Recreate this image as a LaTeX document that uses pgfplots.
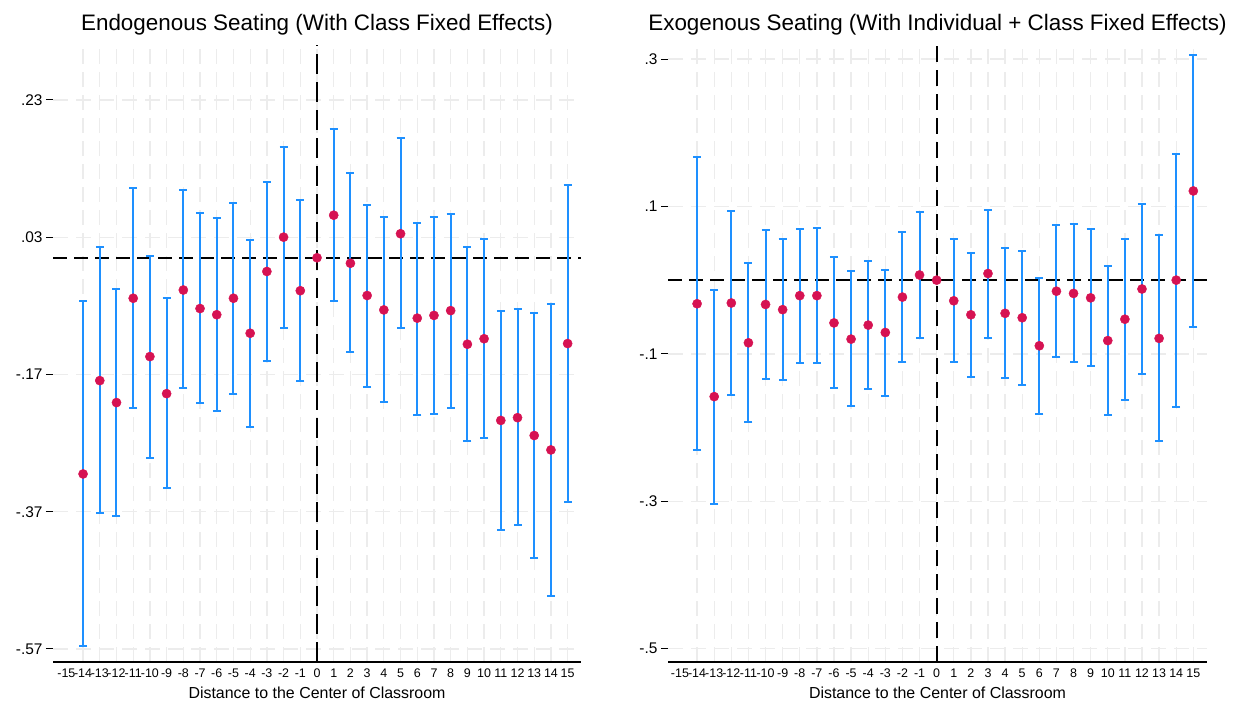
\documentclass[border=0pt]{standalone}
\usepackage{pgfplots}
\pgfplotsset{compat=1.18}
\usepackage{pgfplotstable}
\usepackage{fontspec}
\setmainfont{Liberation Sans}
\definecolor{barblue}{RGB}{30,144,255}
\definecolor{ptred}{RGB}{214,18,82}
\definecolor{gridgray}{RGB}{236,236,236}

\pgfplotstableread{
x y hi lo
-14 -0.315 -0.063 -0.566
-13 -0.179 0.015 -0.372
-12 -0.211 -0.046 -0.376
-11 -0.059 0.102 -0.219
-10 -0.144 0.003 -0.292
-9 -0.198 -0.059 -0.336
-8 -0.047 0.098 -0.190
-7 -0.074 0.065 -0.212
-6 -0.083 0.058 -0.223
-5 -0.059 0.080 -0.199
-4 -0.110 0.026 -0.247
-3 -0.020 0.110 -0.150
-2 0.030 0.161 -0.102
-1 -0.048 0.084 -0.179
0 0 0 0
1 0.062 0.187 -0.063
2 -0.008 0.123 -0.138
3 -0.055 0.077 -0.188
4 -0.076 0.059 -0.210
5 0.035 0.174 -0.103
6 -0.088 0.051 -0.229
7 -0.084 0.060 -0.227
8 -0.077 0.064 -0.219
9 -0.126 0.015 -0.267
10 -0.118 0.028 -0.263
11 -0.237 -0.078 -0.397
12 -0.233 -0.074 -0.390
13 -0.259 -0.081 -0.437
14 -0.280 -0.067 -0.493
15 -0.125 0.106 -0.356
}\endotab

\pgfplotstableread{
x y hi lo
-14 -0.032 0.167 -0.231
-13 -0.158 -0.013 -0.303
-12 -0.031 0.094 -0.156
-11 -0.085 0.023 -0.193
-10 -0.033 0.068 -0.134
-9 -0.040 0.056 -0.135
-8 -0.021 0.069 -0.112
-7 -0.021 0.071 -0.113
-6 -0.058 0.031 -0.146
-5 -0.080 0.012 -0.171
-4 -0.061 0.026 -0.147
-3 -0.071 0.014 -0.157
-2 -0.023 0.065 -0.111
-1 0.007 0.093 -0.078
0 0 0 0
1 -0.028 0.056 -0.111
2 -0.047 0.037 -0.131
3 0.009 0.095 -0.078
4 -0.045 0.043 -0.133
5 -0.051 0.039 -0.142
6 -0.089 0.003 -0.182
7 -0.015 0.075 -0.104
8 -0.018 0.076 -0.111
9 -0.024 0.069 -0.117
10 -0.082 0.019 -0.183
11 -0.053 0.056 -0.162
12 -0.012 0.103 -0.127
13 -0.079 0.061 -0.218
14 0.000 0.171 -0.172
15 0.121 0.305 -0.063
}\exotab

\pgfplotsset{
  coefstyle/.style={
    scale only axis,
    height=617bp,
    axis x line*=bottom,
    axis y line*=left,
    y axis line style={draw=none},
    x axis line style={black, line width=1.2bp},
    xtick={-15,...,15},
    xticklabels={-15,-14,-13,-12,-11,-10,-9,-8,-7,-6,-5,-4,-3,-2,-1,0,1,2,3,4,5,6,7,8,9,10,11,12,13,14,15},
    minor xtick={-14,...,15},
    xminorgrids=true,
    ymajorgrids=true,
    major grid style={gridgray, line width=1.3bp, dash pattern=on 15bp off 8bp},
    minor grid style={gridgray, line width=1.3bp, dash pattern=on 15bp off 8bp},
    x tick style={draw=none},
    minor x tick style={draw=none},
    minor tick length=0pt,
    major tick length=7bp,
    tick align=outside,
    y tick style={black, line width=1bp},
    xticklabel style={font=\fontsize{12.5}{12.5}\selectfont, anchor=center, yshift=-4bp},
    yticklabel style={font=\fontsize{15.5}{15.5}\selectfont},
    title style={at={(0.5,1)}, anchor=center, yshift=14bp, font=\fontsize{22.5}{22.5}\selectfont},
    xlabel style={at={(axis description cs:0.5,0)}, anchor=center, yshift=-31bp, font=\fontsize{16}{16}\selectfont},
    clip=false,
  },
  ebars/.style={
    only marks, mark=none,
    error bars/.cd, y dir=both, y explicit,
    error bar style={draw=barblue, line width=2bp, solid},
    error mark options={draw=barblue, line width=2bp, mark size=4bp, rotate=90, solid},
  },
  pts/.style={only marks, mark=*, mark size=4.6bp, mark options={draw=ptred, fill=ptred}},
}

\begin{document}
\begin{tikzpicture}
\useasboundingbox (0,0) rectangle (1237bp,702bp);

\begin{axis}[coefstyle,
  at={(53bp,40bp)}, anchor=south west,
  width=528bp,
  xmin=-15.8, xmax=15.8,
  ymin=-0.589, ymax=0.31,
  ytick={-0.57,-0.37,-0.17,0.03,0.23},
  yticklabels={-.57,-.37,-.17,.03,.23},
  title={Endogenous Seating (With Class Fixed Effects)},
  xlabel={Distance to the Center of Classroom},
]
\draw[black, line width=2bp, dash pattern=on 14bp off 7bp] (axis cs:-15.8,0) -- (axis cs:15.8,0);
\draw[black, line width=2bp, dash pattern=on 20bp off 8bp] (axis cs:0,-0.589) -- (axis cs:0,0.31);
\addplot[ebars] table[x=x, y=y, y error plus expr=\thisrow{hi}-\thisrow{y}, y error minus expr=\thisrow{y}-\thisrow{lo}] {\endotab};
\addplot[pts] table[x=x, y=y] {\endotab};
\end{axis}

\begin{axis}[coefstyle,
  at={(668bp,40bp)}, anchor=south west,
  width=539bp,
  xmin=-15.7, xmax=15.8,
  ymin=-0.518, ymax=0.319,
  ytick={-0.5,-0.3,-0.1,0.1,0.3},
  yticklabels={-.5,-.3,-.1,.1,.3},
  title={Exogenous Seating (With Individual + Class Fixed Effects)},
  xlabel={Distance to the Center of Classroom},
]
\draw[black, line width=1.8bp, dash pattern=on 14bp off 7bp] (axis cs:-15.7,0) -- (axis cs:15.8,0);
\draw[black, line width=1.8bp, dash pattern=on 16bp off 8bp] (axis cs:0,-0.518) -- (axis cs:0,0.319);
\addplot[ebars] table[x=x, y=y, y error plus expr=\thisrow{hi}-\thisrow{y}, y error minus expr=\thisrow{y}-\thisrow{lo}] {\exotab};
\addplot[pts] table[x=x, y=y] {\exotab};
\end{axis}
\end{tikzpicture}
\end{document}
